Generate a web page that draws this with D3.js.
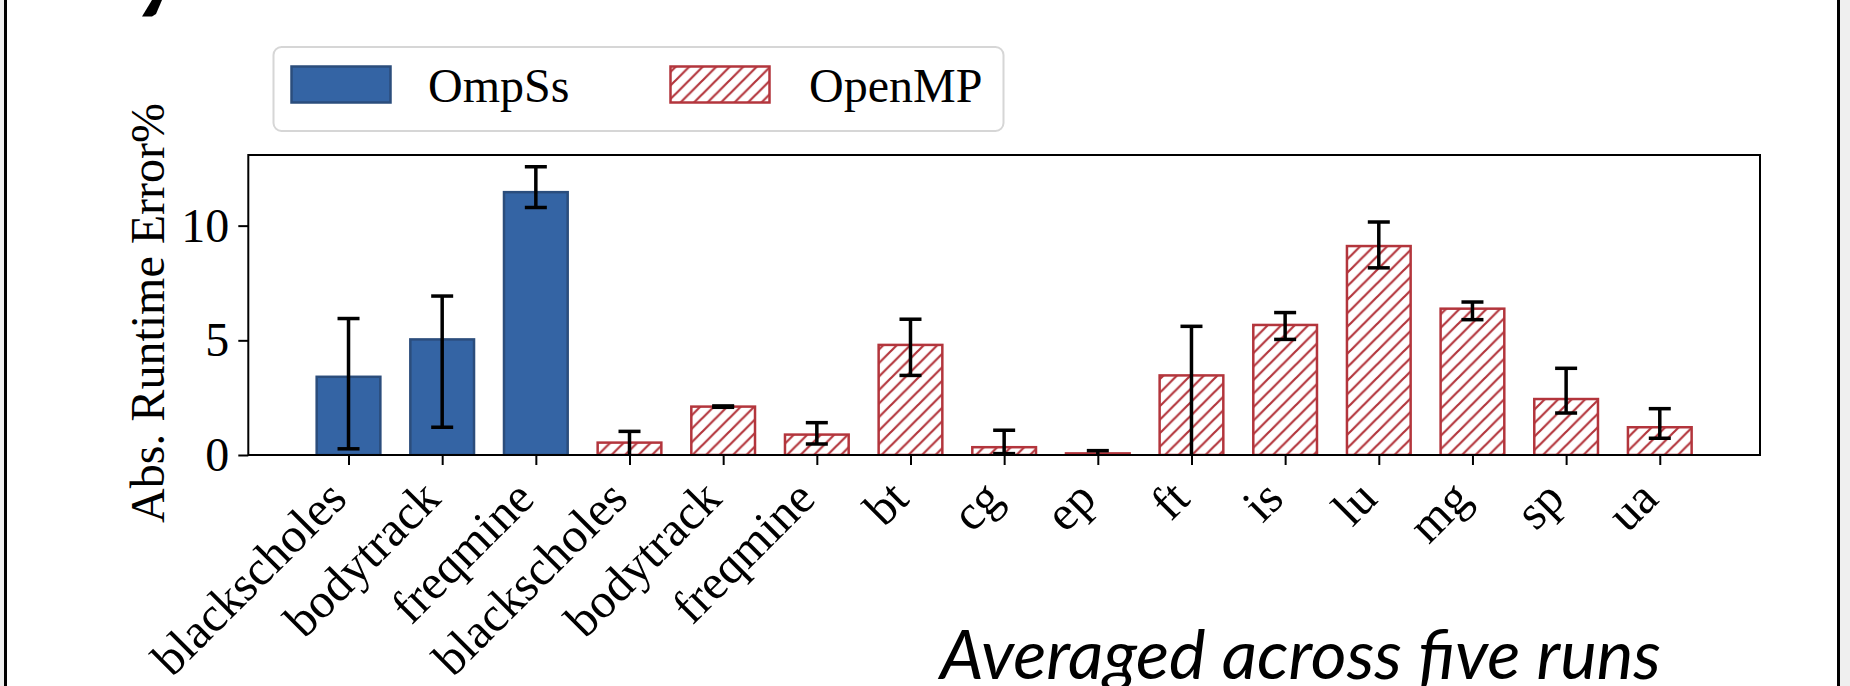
<!DOCTYPE html>
<html>
<head>
<meta charset="utf-8">
<script src="https://cdn.jsdelivr.net/npm/d3@7"></script>
<style>
  body { margin: 0; background: #fff; }
  svg { display: block; }
</style>
</head>
<body>
<div id="chart"></div>
<script>
// values
const categories = ["blackscholes", "bodytrack", "freqmine", "blackscholes", "bodytrack", "freqmine",
                    "bt", "cg", "ep", "ft", "is", "lu", "mg", "sp", "ua"];
const groups = ["OmpSs", "OmpSs", "OmpSs", "OpenMP", "OpenMP", "OpenMP", "OpenMP", "OpenMP",
                "OpenMP", "OpenMP", "OpenMP", "OpenMP", "OpenMP", "OpenMP", "OpenMP"];
const means   = [3.41, 5.04, 11.46, 0.54, 2.11, 0.89, 4.80, 0.34, 0.07, 3.47, 5.67, 9.11, 6.38, 2.44, 1.21];
const errLow  = [0.27, 1.21, 10.79, -0.2, 2.08, 0.48, 3.47, 0.06, -0.2, -0.2, 5.04, 8.16, 5.90, 1.83, 0.73];
const errHigh = [5.95, 6.93, 12.57, 1.03, 2.14, 1.41, 5.92, 1.08, 0.19, 5.61, 6.21, 10.16, 6.67, 3.78, 2.02];
const yTickValues = [0, 5, 10];
const legendLabels = ["OmpSs", "OpenMP"];
const yTitle = "Abs. Runtime Error%";
const caption = "Averaged across five runs";

const W = 1850, H = 686;
const plot = {left: 248.3, right: 1760, top: 155, bottom: 455};
const serif = "'Liberation Serif', 'Times New Roman', serif";
const fontSize = 48;
const blue = "#3464a4", blueEdge = "#2b4d7c", red = "#b3353c";

const svg = d3.select("#chart").append("svg")
    .attr("width", W)
    .attr("height", H)
    .attr("viewBox", `0 0 ${W} ${H}`);

const defs = svg.append("defs");
// hatch "///"
const hatch = defs.append("pattern")
    .attr("id", "hatch")
    .attr("patternUnits", "userSpaceOnUse")
    .attr("width", 13.5).attr("height", 13.5);
hatch.append("rect").attr("width", 13.5).attr("height", 13.5).attr("fill", "#fff");
hatch.append("path")
    .attr("d", "M-3,3 L3,-3 M0,13.5 L13.5,0 M10.5,16.5 L16.5,10.5")
    .attr("stroke", red).attr("stroke-width", 2.2);

defs.append("clipPath").attr("id", "plotclip")
  .append("rect")
    .attr("x", plot.left).attr("y", plot.top)
    .attr("width", plot.right - plot.left).attr("height", plot.bottom - plot.top);

// slide frame
svg.append("rect").attr("x", 0).attr("y", 0).attr("width", 4).attr("height", H).attr("fill", "#efefef");
svg.append("rect").attr("x", 4).attr("y", 0).attr("width", 3).attr("height", H).attr("fill", "#000");
svg.append("rect").attr("x", 1837).attr("y", 0).attr("width", 3).attr("height", H).attr("fill", "#000");
svg.append("rect").attr("x", 1840).attr("y", 0).attr("width", 10).attr("height", H).attr("fill", "#efefef");
// bit of a glyph cut off at the top edge
svg.append("path").attr("d", "M152,0 L162,0 L156,14 L152,16.5 L142,16.5 Z").attr("fill", "#000");

/* Scales */
let x = d3.scaleLinear()
    .domain([-1.07, categories.length - 1 + 1.07])
    .range([plot.left, plot.right]);
let y = d3.scaleLinear()
    .domain([0, 13.08])
    .range([plot.bottom, plot.top]);

const barW = (x(1) - x(0)) * 0.68;

/* Bars */
let barsG = svg.append("g").attr("clip-path", "url(#plotclip)");
barsG.selectAll("rect")
    .data(means)
    .join("rect")
    .attr("x", (d, i) => x(i) - barW / 2)
    .attr("y", d => y(d))
    .attr("width", barW)
    .attr("height", d => y(0) - y(d))
    .attr("fill", (d, i) => groups[i] === "OmpSs" ? blue : "url(#hatch)")
    .attr("stroke", (d, i) => groups[i] === "OmpSs" ? blueEdge : red)
    .attr("stroke-width", 2.5);

/* Error bars */
const capW = 11;
let errG = svg.append("g").attr("clip-path", "url(#plotclip)")
    .attr("stroke", "#000").attr("stroke-width", 3.5);
means.forEach((m, i) => {
    const cx = x(i);
    errG.append("line").attr("x1", cx).attr("x2", cx).attr("y1", y(errLow[i])).attr("y2", y(errHigh[i]));
    errG.append("line").attr("x1", cx - capW).attr("x2", cx + capW).attr("y1", y(errLow[i])).attr("y2", y(errLow[i]));
    errG.append("line").attr("x1", cx - capW).attr("x2", cx + capW).attr("y1", y(errHigh[i])).attr("y2", y(errHigh[i]));
});

/* Axes */
let yAxis = svg.append("g")
    .attr("transform", `translate(${plot.left},0)`)
    .call(d3.axisLeft(y).tickValues(yTickValues).tickSize(10).tickPadding(9).tickSizeOuter(0));
yAxis.select(".domain").remove();
yAxis.selectAll("line").attr("stroke-width", 2);
yAxis.selectAll("text")
    .attr("font-family", serif).attr("font-size", fontSize).attr("fill", "#000");

let xAxis = svg.append("g")
    .attr("transform", `translate(0,${plot.bottom})`)
    .call(d3.axisBottom(x).tickValues(d3.range(categories.length))
          .tickFormat(i => categories[i]).tickSize(10).tickSizeOuter(0));
xAxis.select(".domain").remove();
xAxis.selectAll("line").attr("stroke-width", 2);
xAxis.selectAll("text")
    .attr("font-family", serif).attr("font-size", 49).attr("fill", "#000")
    .attr("y", 0).attr("dy", 0)
    .style("text-anchor", "end")
    .attr("transform", "translate(0,46) rotate(-45)");

// axes frame
svg.append("rect")
    .attr("x", plot.left).attr("y", plot.top)
    .attr("width", plot.right - plot.left).attr("height", plot.bottom - plot.top)
    .attr("fill", "none").attr("stroke", "#000").attr("stroke-width", 2);

// y label
svg.append("text")
    .attr("transform", `translate(164,313) rotate(-90)`)
    .attr("text-anchor", "middle")
    .attr("font-family", serif).attr("font-size", fontSize)
    .text(yTitle);

/* Legend */
let legend = svg.append("g");
legend.append("rect")
    .attr("x", 273.5).attr("y", 47).attr("width", 730).attr("height", 84).attr("rx", 8)
    .attr("fill", "#fff").attr("stroke", "#d6d6d6").attr("stroke-width", 2);
const legendItems = [
    {label: legendLabels[0], px: 291.5, tx: 428, fill: blue, stroke: blueEdge},
    {label: legendLabels[1], px: 670.5, tx: 809, fill: "url(#hatch)", stroke: red}
];
legendItems.forEach(it => {
    legend.append("rect")
        .attr("x", it.px).attr("y", 66.5).attr("width", 99).attr("height", 36)
        .attr("fill", it.fill).attr("stroke", it.stroke).attr("stroke-width", 2.5);
    legend.append("text")
        .attr("x", it.tx).attr("y", 102)
        .attr("font-family", serif).attr("font-size", fontSize)
        .text(it.label);
});

// caption at the bottom of the slide
svg.append("text")
    .attr("x", 940).attr("y", 679)
    .attr("font-family", "Lato, 'Open Sans', sans-serif")
    .attr("font-style", "italic")
    .attr("font-size", 67)
    .attr("textLength", 721).attr("lengthAdjust", "spacingAndGlyphs")
    .text(caption);
</script>
</body>
</html>
